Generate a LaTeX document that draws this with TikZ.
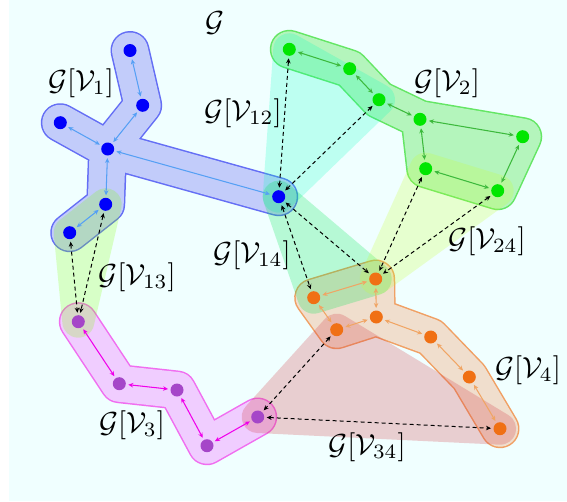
\documentclass[tikz,border=0pt]{standalone}
\usetikzlibrary{arrows.meta}
\definecolor{bgc}{RGB}{240,255,255}
\definecolor{bnode}{RGB}{0,0,250}
\definecolor{bedge}{RGB}{85,160,245}
\definecolor{bhull}{RGB}{194,204,250}
\definecolor{bline}{RGB}{100,110,245}
\definecolor{gnode}{RGB}{0,230,0}
\definecolor{gedge}{RGB}{60,185,60}
\definecolor{ghull}{RGB}{180,245,188}
\definecolor{gline}{RGB}{100,230,100}
\definecolor{pnode}{RGB}{165,70,200}
\definecolor{pedge}{RGB}{240,0,235}
\definecolor{phull}{RGB}{240,205,255}
\definecolor{pline}{RGB}{240,110,240}
\definecolor{onode}{RGB}{240,112,20}
\definecolor{oedge}{RGB}{240,165,100}
\definecolor{ohull}{RGB}{240,222,205}
\definecolor{oline}{RGB}{240,160,100}
\definecolor{t12}{RGB}{0,255,190}
\definecolor{t13}{RGB}{128,255,0}
\definecolor{t14}{RGB}{0,230,80}
\definecolor{t24}{RGB}{200,255,50}
\definecolor{t34}{RGB}{210,60,70}
\pgfdeclarelayer{back}
\pgfdeclarelayer{mid}
\pgfsetlayers{back,mid,main}
\tikzset{
  vtx/.style={circle, minimum size=13pt, inner sep=0pt, outer sep=2.5pt},
  bv/.style={vtx, fill=bnode},
  gv/.style={vtx, fill=gnode},
  pv/.style={vtx, fill=pnode},
  ov/.style={vtx, fill=onode},
  iedge/.style={line width=1.05pt, {Stealth[length=5pt,width=4.5pt]}-{Stealth[length=5pt,width=4.5pt]}},
  xedge/.style={line width=1pt, black, dash pattern=on 4pt off 3pt, {Stealth[length=5pt,width=4.5pt]}-{Stealth[length=5pt,width=4.5pt]}},
  hullout/.style={line width=39pt, line cap=round, line join=round},
  hullin/.style={line width=36pt, line cap=round, line join=round},
  tri/.style={line width=32pt, line join=round},
  lab/.style={scale=2.9, inner sep=0pt}
}
\begin{document}
\begin{tikzpicture}[x=1pt,y=-1pt]
\useasboundingbox (0,0) rectangle (567,501);
% nodes
\node[bv] (b1) at (130,50.5) {};
\node[bv] (b2) at (142.7,105.3) {};
\node[bv] (b3) at (107.7,149) {};
\node[bv] (b4) at (60.3,122.7) {};
\node[bv] (b5) at (278.7,196.7) {};
\node[bv] (b6) at (105.7,204.3) {};
\node[bv] (b7) at (69.7,232.7) {};
\node[gv] (g1) at (289.3,49.3) {};
\node[gv] (g2) at (349.7,68.7) {};
\node[gv] (g3) at (379,99.7) {};
\node[gv] (g4) at (420,119.3) {};
\node[gv] (g5) at (522.7,136.7) {};
\node[gv] (g6) at (425.7,168.7) {};
\node[gv] (g7) at (497.7,190.7) {};
\node[pv] (p1) at (78.3,321.7) {};
\node[pv] (p2) at (119.3,383.7) {};
\node[pv] (p3) at (177,390) {};
\node[pv] (p4) at (207,445.7) {};
\node[pv] (p5) at (257.7,417) {};
\node[ov] (o1) at (313.7,297.7) {};
\node[ov] (o2) at (375.7,279) {};
\node[ov] (o3) at (336.7,329.7) {};
\node[ov] (o4) at (376.3,317) {};
\node[ov] (o5) at (430.7,337) {};
\node[ov] (o6) at (469.3,377) {};
\node[ov] (o7) at (500,428.7) {};
% background and hulls
\begin{pgfonlayer}{back}
\fill[bgc] (9,0) rectangle (567,501);
\draw[hullout, bline] (b1.center)--(b2.center)--(b3.center)--(b5.center) (b4.center)--(b3.center)--(b6.center)--(b7.center);
\draw[hullin, bhull] (b1.center)--(b2.center)--(b3.center)--(b5.center) (b4.center)--(b3.center)--(b6.center)--(b7.center);
\draw[hullout, gline] (g1.center)--(g2.center)--(g3.center)--(g4.center) (g4.center)--(g5.center)--(g7.center)--(g6.center)--cycle;
\draw[hullin, ghull] (g1.center)--(g2.center)--(g3.center)--(g4.center) (g4.center)--(g5.center)--(g7.center)--(g6.center)--cycle;
\fill[ghull] (g4.center)--(g5.center)--(g7.center)--(g6.center)--cycle;
\draw[hullout, pline] (p1.center)--(p2.center)--(p3.center)--(p4.center)--(p5.center);
\draw[hullin, phull] (p1.center)--(p2.center)--(p3.center)--(p4.center)--(p5.center);
\draw[hullout, oline] (o2.center)--(o1.center)--(o3.center)--(o4.center)--cycle (o4.center)--(o5.center)--(o6.center)--(o7.center);
\draw[hullin, ohull] (o2.center)--(o1.center)--(o3.center)--(o4.center)--cycle (o4.center)--(o5.center)--(o6.center)--(o7.center);
\fill[ohull] (o2.center)--(o1.center)--(o3.center)--(o4.center)--cycle;
\end{pgfonlayer}
% overlap regions
\begin{pgfonlayer}{mid}
\begin{scope}[transparency group, opacity=0.21]
\filldraw[tri, t12] (b5.center)--(g1.center)--(g3.center)--cycle;
\end{scope}
\begin{scope}[transparency group, opacity=0.22]
\filldraw[tri, t13] (b6.center)--(b7.center)--(p1.center)--cycle;
\end{scope}
\begin{scope}[transparency group, opacity=0.24]
\filldraw[tri, t14] (b5.center)--(o1.center)--(o2.center)--cycle;
\end{scope}
\begin{scope}[transparency group, opacity=0.23]
\filldraw[tri, t24] (g6.center)--(g7.center)--(o2.center)--cycle;
\end{scope}
\begin{scope}[transparency group, opacity=0.25]
\filldraw[tri, t34] (o3.center)--(p5.center)--(o7.center)--cycle;
\end{scope}
\end{pgfonlayer}
% intra edges
\draw[iedge, bedge] (b1)--(b2);
\draw[iedge, bedge] (b2)--(b3);
\draw[iedge, bedge] (b4)--(b3);
\draw[iedge, bedge] (b3)--(b5);
\draw[iedge, bedge] (b3)--(b6);
\draw[iedge, bedge] (b6)--(b7);
\draw[iedge, gedge] (g1)--(g2);
\draw[iedge, gedge] (g2)--(g3);
\draw[iedge, gedge] (g3)--(g4);
\draw[iedge, gedge] (g4)--(g5);
\draw[iedge, gedge] (g4)--(g6);
\draw[iedge, gedge] (g6)--(g7);
\draw[iedge, gedge] (g7)--(g5);
\draw[iedge, pedge] (p1)--(p2);
\draw[iedge, pedge] (p2)--(p3);
\draw[iedge, pedge] (p3)--(p4);
\draw[iedge, pedge] (p4)--(p5);
\draw[iedge, oedge] (o1)--(o2);
\draw[iedge, oedge] (o1)--(o3);
\draw[iedge, oedge] (o2)--(o4);
\draw[iedge, oedge] (o4)--(o3);
\draw[iedge, oedge] (o4)--(o5);
\draw[iedge, oedge] (o5)--(o6);
\draw[iedge, oedge] (o6)--(o7);
% inter edges
\draw[xedge] (b5)--(g1);
\draw[xedge] (b5)--(g3);
\draw[xedge] (b7)--(p1);
\draw[xedge] (b6)--(p1);
\draw[xedge] (b5)--(o1);
\draw[xedge] (b5)--(o2);
\draw[xedge] (g6)--(o2);
\draw[xedge] (g7)--(o2);
\draw[xedge] (o3)--(p5);
\draw[xedge] (p5)--(o7);
% labels
\node[lab] (lG) at (215,23) {$\mathcal{G}$};
\node[lab] (l1) at (81,83) {$\mathcal{G}[\mathcal{V}_{1}]$};
\node[lab] (l12) at (243,113) {$\mathcal{G}[\mathcal{V}_{12}]$};
\node[lab] (l2) at (447,83) {$\mathcal{G}[\mathcal{V}_{2}]$};
\node[lab] (l24) at (487,241) {$\mathcal{G}[\mathcal{V}_{24}]$};
\node[lab] (l14) at (252,255) {$\mathcal{G}[\mathcal{V}_{14}]$};
\node[lab] (l13) at (137,277) {$\mathcal{G}[\mathcal{V}_{13}]$};
\node[lab] (l3) at (132,425) {$\mathcal{G}[\mathcal{V}_{3}]$};
\node[lab] (l4) at (528,370) {$\mathcal{G}[\mathcal{V}_{4}]$};
\node[lab] (l34) at (367,447) {$\mathcal{G}[\mathcal{V}_{34}]$};
\end{tikzpicture}
\end{document}
